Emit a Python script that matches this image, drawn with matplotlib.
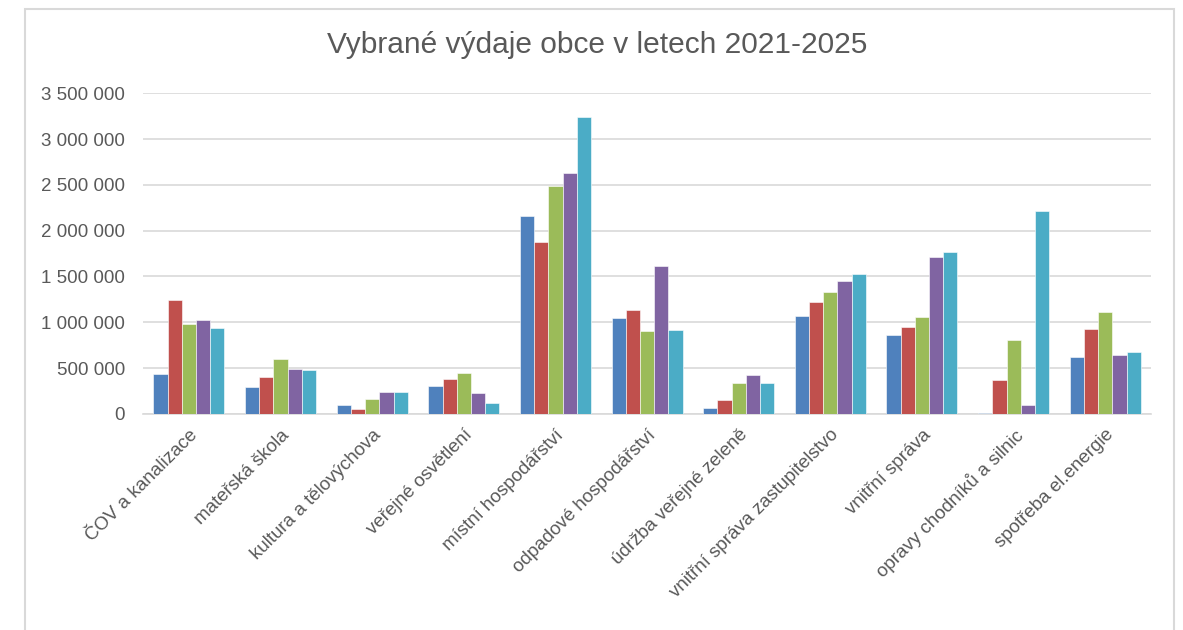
import matplotlib
matplotlib.use("Agg")
import numpy as np
import matplotlib.pyplot as plt
from matplotlib.patches import Rectangle

plt.rcParams['font.family'] = ['Liberation Sans', 'DejaVu Sans']

kategorie = ['ČOV a kanalizace', 'mateřská škola', 'kultura a tělovýchova',
             'veřejné osvětlení', 'místní hospodářství', 'odpadové hospodářství',
             'údržba veřejné zeleně', 'vnitřní správa zastupitelstvo',
             'vnitřní správa', 'opravy chodníků a silnic', 'spotřeba el.energie']
roky = ['2021', '2022', '2023', '2024', '2025']

v2021 = [440000, 290000, 100000, 306000, 2163000, 1042000, 60000, 1064000, 858000, 12000, 616000]
v2022 = [1240000, 400000, 52000, 380000, 1872000, 1136000, 147000, 1223000, 947000, 368000, 925000]
v2023 = [978000, 595000, 158000, 446000, 2491000, 903000, 333000, 1333000, 1060000, 802000, 1111000]
v2024 = [1025000, 489000, 238000, 224000, 2629000, 1613000, 427000, 1446000, 1708000, 98000, 638000]
v2025 = [934000, 482000, 238000, 118000, 3238000, 911000, 333000, 1529000, 1770000, 2211000, 677000]

serie = [v2021, v2022, v2023, v2024, v2025]
barvy = ['#4F81BD', '#C0504D', '#9BBB59', '#8064A2', '#4BACC6']

fig = plt.figure(figsize=(11.83, 6.3), dpi=100)
ax = fig.add_axes([0.121, 0.343, 0.852, 0.509])

x = np.arange(len(kategorie))
w = 0.155
for i, (vals, c) in enumerate(zip(serie, barvy)):
    ax.bar(x + (i - 2) * w, vals, width=w, color=c, label=roky[i],
           edgecolor='white', linewidth=0.4, zorder=3)

ax.set_xlim(-0.5, len(kategorie) - 0.5)
ax.set_ylim(0, 3500000)
yt = np.arange(0, 3500001, 500000)
ax.set_yticks(yt)
ax.set_yticklabels([f"{v:,.0f}".replace(",", " ") for v in yt])
ax.yaxis.grid(True, color='#D9D9D9', linewidth=1.2, zorder=0)
ax.set_axisbelow(True)

for s in ['top', 'right', 'left']:
    ax.spines[s].set_visible(False)
ax.spines['bottom'].set_color('#D9D9D9')
ax.spines['bottom'].set_linewidth(1.2)
ax.tick_params(axis='both', length=0, labelsize=13.5, colors='#595959')
ax.tick_params(axis='y', pad=13)

ax.set_xticks(x)
ax.set_xticklabels(kategorie, rotation=45, ha='right', rotation_mode='anchor')
ax.tick_params(axis='x', pad=9)

fig.text(0.505, 0.928, 'Vybrané výdaje obce v letech 2021-2025', ha='center', va='center',
         fontsize=21.5, color='#595959')

fig.patches.append(Rectangle((25 / 1183, -0.05), (1174 - 25) / 1183, 1.05 - 9 / 630,
                             transform=fig.transFigure, fill=False,
                             edgecolor='#D9D9D9', linewidth=1.5))

fig.savefig('out.png', dpi=100, facecolor='white')
